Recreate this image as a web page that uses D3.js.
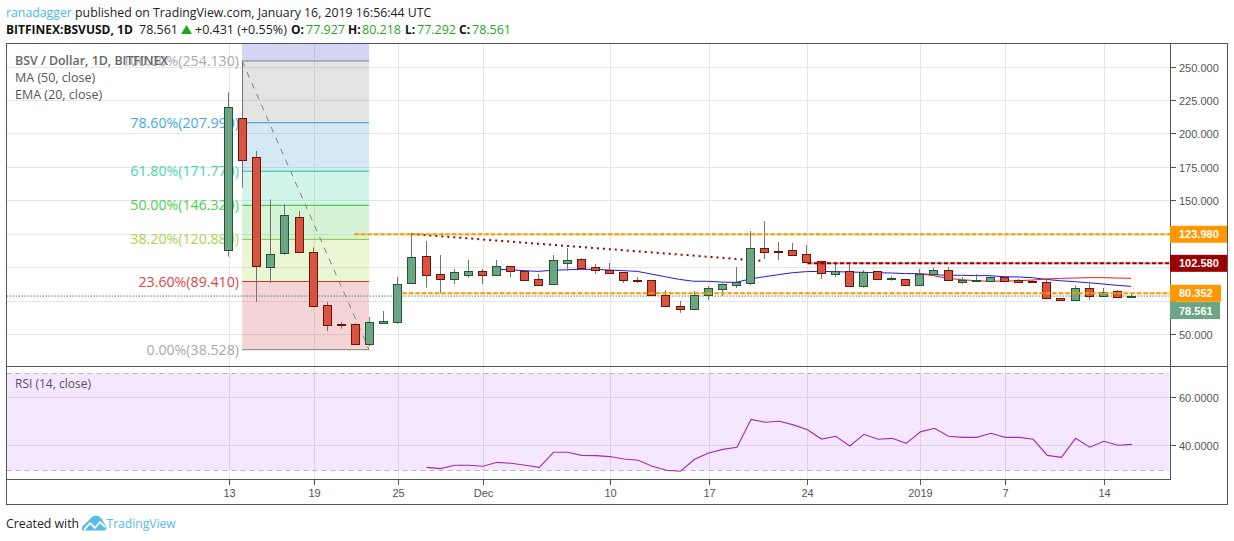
<!DOCTYPE html>
<html><head><meta charset="utf-8">
<script src="https://cdn.jsdelivr.net/npm/d3@7/dist/d3.min.js"></script>
<style>html,body{margin:0;padding:0;background:#fff}svg{display:block}</style>
</head><body><svg id="c" width="1234" height="541"></svg>
<script>
// ---- data ----
const opens  = [113.2,211.3,182.2,100.5,110.9,137.4,111.2,71.7,57.5,57.5,43,58.7,59.4,88.5,108.3,94.8,91.5,94.5,97,94.5,100.8,97,91,87.8,103.5,106,100,98.2,96.3,90.5,90.3,79.3,70.9,69.1,79.6,84,87,88.5,114.2,112.2,112.7,109.7,104.5,95.3,97,86.3,97,91.5,91,87,95.3,97.8,89,90,90,92.6,90.3,89.8,88.8,77.1,75.8,84.4,78.6,82,77.927];
const highs  = [230.7,254.13,186.9,150.8,147.3,142.1,115,74.1,59.2,58.2,62.9,67.4,92.8,124.9,119.7,109.2,98.8,105.5,98.8,105.5,101,97.5,95,109.2,114.4,106.8,102.5,103.2,96.5,92.8,90.3,83,74.9,82.3,86,88,100.3,127.1,134.6,118.9,118.2,116.7,105,103,102.3,98,97,93.3,91,98.8,99.7,100,92.8,95,94.3,93.8,91.3,90.5,91.8,77.1,86.6,89,84.6,83,80.218];
const lows   = [108,159.5,74.3,88.5,109.4,110.9,70.9,52.5,54.2,43,41,57.9,57.9,88.5,84.8,80.6,87.6,92.3,87.6,93.8,92.8,89.8,86,87.8,97.3,98.5,95,96,88.3,88.3,79.6,71.4,66.1,69.1,75.6,78.6,84.6,86.8,106.2,105.5,108.7,104,91.3,92.8,86.3,84.8,91.5,90,87,87,94,90,87.8,90,90,90,89,88.5,76.1,75.4,75.8,75.8,78.6,77.3,77.292];
const closes = [219.5,180,100.8,109.7,138.9,111.7,70.9,57.2,56.7,43,59,59.7,87.3,107.5,94.5,91.5,96.3,97,94.5,100.8,97,90.8,87,105.3,105.3,99.7,98.2,96,90.8,90,79.6,71.4,69.1,79.1,84.4,87.6,89,114.2,111.7,111.7,109.4,104.2,95.6,97,86.3,96.3,91.5,92,87,94.8,97.8,90.8,90.3,90.8,92.6,90,89.3,88.8,76.9,75.8,84.4,78.4,81.4,78,78.561];
const emaStart = 19;
const emaValues = [98.5,98.2,97.5,97,97.8,98.2,98.5,98.5,98,97.5,97,95,93,91,89.6,89.6,89,88.8,91.3,93,94.5,96,96.8,97,96.8,96.5,96.3,96,95.8,95.3,95.3,94.5,94.1,94.1,93.8,93.8,93,92.8,92.3,91,90,89.3,88.5,87.6,86.6,85.8];
const maStart = 49;
const maValues = [95.3,93.8,91.8,90.8,90,89.6,89.8,90,90.5,91.3,91.8,92,92.3,92.3,92,91.8];
const rsiStart = 14;
const rsiValues = [30.8,30.3,31.7,31.7,31.25,32.9,32.5,31.7,30.8,37.1,37.1,35.8,35.7,35.3,34.3,33.75,31.25,29.6,29.2,34.2,36.8,38.3,39.2,50.8,49.6,50,48.5,46.5,42.6,43.75,39.7,44.6,42.5,42.9,40.8,45.6,47.1,43.75,43.3,43.3,45,43.3,43.3,42.5,35.8,35,42.9,39.2,41.7,40,40.4];
const gridPrices = [50,75,100,125,150,175,200,225,250];
const labelledPrices = [50,150,175,200,225,250];
const rsiTicks = [40,60];
const dayTickIdx = [0,6,12,18,27,34,41,49,55,62];
const dayTickLabels = ["13","19","25","Dec","10","17","24","2019","7","14"];
const fibPrices = [254.13,207.99,171.77,146.32,120.88,89.41,38.528];
const fibLabels = ["100.00%(254.130)","78.60%(207.990)","61.80%(171.770)","50.00%(146.320)","38.20%(120.880)","23.60%(89.410)","0.00%(38.528)"];
const fibLine = ["#808080","#2a9ad6","#1fc79a","#35c235","#8cc63a","#c43a2e","#808080"];
const fibText = ["#a8a8a8","#4aa8e0","#45d6ac","#45d24f","#a8d450","#d8474a","#a8a8a8"];
const fibFill = ["rgb(83,83,215)","rgb(143,143,143)","rgb(83,167,215)","rgb(75,215,171)","rgb(87,211,87)","rgb(171,215,79)","rgb(211,83,83)"];
const levelPrices = [124.7,103,80.6];
const levelNames = ["123.980","102.580","80.352"];
const levelColors = ["#ff9800","#990000","#ff9800"];
const levelStartIdx = [8.9,41.0,12.3];
const lastPrice = 78.561;
const lastLabel = "78.561";
const trendIdx = [13,38];
const trendPrices = [124.9,104.7];

// ---- scales ----
const svg = d3.select("#c");
const x = d3.scaleLinear().domain([0,64]).range([229,1132]);
const y = d3.scaleLinear().domain([50,250]).range([334.3,66.5]);
const r = d3.scaleLinear().domain([40,60]).range([445.3,397.3]);
const L=6.5,R=1227.5,PR=1170.5,T=43.5,D1=366.5,D2=479.5,B=504.5;
const UI = "'Open Sans',sans-serif", AX="'Liberation Sans',Arial,sans-serif";
const TXT="#555";

// grid
const grid = svg.append("g").attr("stroke","#e6e6e6").attr("shape-rendering","crispEdges");
gridPrices.forEach(p=>grid.append("line").attr("x1",L).attr("x2",PR).attr("y1",Math.round(y(p))+.5).attr("y2",Math.round(y(p))+.5));
rsiTicks.forEach(p=>grid.append("line").attr("x1",L).attr("x2",PR).attr("y1",Math.round(r(p))+.5).attr("y2",Math.round(r(p))+.5));
dayTickIdx.forEach(i=>{const xx=Math.round(x(i))+.5;
  grid.append("line").attr("x1",xx).attr("x2",xx).attr("y1",T).attr("y2",D1);
  grid.append("line").attr("x1",xx).attr("x2",xx).attr("y1",D1).attr("y2",D2);});

// fib zones
const fx0=x(1)-1, fx1=x(10)-1;
const fibTop=[T+.5].concat(fibPrices.slice(0,-1).map(y));
fibPrices.forEach((p,i)=>{
  svg.append("rect").attr("x",fx0).attr("width",fx1-fx0).attr("y",fibTop[i]).attr("height",y(p)-fibTop[i])
    .attr("fill",fibFill[i]).attr("fill-opacity",.25);
});
fibPrices.forEach((p,i)=>{
  svg.append("line").attr("x1",fx0).attr("x2",fx1).attr("y1",y(p)).attr("y2",y(p)).attr("stroke",fibLine[i]).attr("stroke-width",1);
  svg.append("text").attr("x",239).attr("y",y(p)+5).attr("text-anchor","end").attr("font-family",UI).attr("font-size",14.2).attr("fill",fibText[i]).text(fibLabels[i]);
});
svg.append("line").attr("x1",fx0).attr("y1",y(fibPrices[0])).attr("x2",fx1).attr("y2",y(fibPrices[6]))
  .attr("stroke","#808080").attr("stroke-dasharray","6 6").attr("stroke-width",1);

// RSI
svg.append("rect").attr("x",L).attr("width",PR-L-1).attr("y",r(70)).attr("height",r(30)-r(70)+1).attr("fill","rgb(153,21,255)").attr("fill-opacity",.1);
[373.5,470.5].forEach(yy=>{
  svg.append("line").attr("x1",L).attr("x2",PR-2).attr("y1",yy).attr("y2",yy).attr("stroke","#b9b4bd").attr("stroke-dasharray","5 4");});
const lineIdx=(start,sc,dx)=>d3.line().x((d,i)=>x(start+i)+dx).y(d=>sc(d));
svg.append("path").attr("d",lineIdx(rsiStart,r,0)(rsiValues)).attr("fill","none").attr("stroke","#a32cb5").attr("stroke-width",1.1);

// price reference
svg.append("line").attr("x1",L).attr("x2",PR).attr("y1",y(lastPrice)).attr("y2",y(lastPrice)).attr("stroke","#4f8a6c").attr("stroke-dasharray","1.5 1.5");

// trend
svg.append("line").attr("x1",x(trendIdx[0])-1).attr("y1",y(trendPrices[0])).attr("x2",x(trendIdx[1])-1).attr("y2",y(trendPrices[1]))
  .attr("stroke","#990000").attr("stroke-width",2).attr("stroke-dasharray","2 4");

// MA lines
svg.append("path").attr("d",lineIdx(emaStart,y,-1)(emaValues)).attr("fill","none").attr("stroke","#1b1bf0").attr("stroke-width",1);
svg.append("path").attr("d",lineIdx(maStart,y,-1)(maValues)).attr("fill","none").attr("stroke","#f01b1b").attr("stroke-width",1);

// candles
const UP="#6ba583",DN="#d75442",UPB="#225437",DNB="#6f1508",WICK="#737375";
closes.forEach((c,i)=>{
  const o=opens[i],up=c>=o,xx=Math.round(x(i))-.5;
  const g=svg.append("g");
  g.append("line").attr("x1",xx).attr("x2",xx).attr("y1",y(highs[i])).attr("y2",y(lows[i])).attr("stroke",WICK);
  const t=Math.round(y(Math.max(o,c)))+.5, b=Math.max(Math.round(y(Math.min(o,c)))+.5,t+1);
  g.append("rect").attr("x",xx-4).attr("width",8).attr("y",t).attr("height",b-t)
    .attr("fill",up?UP:DN).attr("stroke",up?UPB:DNB);
});

// horizontal levels
levelPrices.forEach((p,i)=>{
  const x0=x(levelStartIdx[i]);
  svg.append("line").attr("x1",x0).attr("x2",PR).attr("y1",y(p)).attr("y2",y(p)).attr("stroke",levelColors[i]).attr("stroke-width",2).attr("stroke-opacity",.35);
  svg.append("line").attr("x1",x0).attr("x2",PR).attr("y1",y(p)).attr("y2",y(p)).attr("stroke",levelColors[i]).attr("stroke-width",2).attr("stroke-dasharray","4 2.5");
});

// frame
const fr=svg.append("g").attr("stroke","#555").attr("fill","none").attr("shape-rendering","crispEdges");
fr.append("rect").attr("x",L).attr("y",T).attr("width",R-L).attr("height",B-T);
fr.append("line").attr("x1",L).attr("x2",R).attr("y1",D1).attr("y2",D1);
fr.append("line").attr("x1",L).attr("x2",PR).attr("y1",D2).attr("y2",D2);
fr.append("line").attr("x1",PR).attr("x2",PR).attr("y1",T).attr("y2",D2);

// axes
const axisText=(xx,yy,s,anchor)=>svg.append("text").attr("x",xx).attr("y",yy).attr("text-anchor",anchor||"start").attr("font-family",AX).attr("font-size",11).attr("fill",TXT).text(s);
gridPrices.forEach(p=>{
  const yy=Math.round(y(p))+.5;
  fr.append("line").attr("x1",PR).attr("x2",PR+5).attr("y1",yy).attr("y2",yy);
});
labelledPrices.forEach(p=>axisText(1179,Math.round(y(p))+4.5,p.toFixed(3)));
rsiTicks.forEach(p=>{
  const yy=Math.round(r(p))+.5;
  fr.append("line").attr("x1",PR).attr("x2",PR+5).attr("y1",yy).attr("y2",yy);
  axisText(1179,yy+4,p.toFixed(4));
});
dayTickIdx.forEach((i,k)=>{
  const xx=Math.round(x(i))+.5;
  fr.append("line").attr("x1",xx).attr("x2",xx).attr("y1",D2).attr("y2",D2+5);
  axisText(xx,497,dayTickLabels[k],"middle");
});

// price tags
const tag=(yy,s,fill,w)=>{
  svg.append("rect").attr("x",1170).attr("y",yy-8.5).attr("width",w).attr("height",17).attr("fill",fill);
  svg.append("text").attr("x",1179).attr("y",yy+4).attr("font-family",AX).attr("font-size",11).attr("font-weight",700).attr("fill","#fff").text(s);
};
tag(y(levelPrices[0]),levelNames[0],levelColors[0],57);
tag(y(levelPrices[1]),levelNames[1],levelColors[1],57);
tag(y(levelPrices[2]),levelNames[2],levelColors[2],51);
tag(y(lastPrice)+14.5,lastLabel,UP,50);

// legends
const t=(xx,yy,s,size,fill,w)=>svg.append("text").attr("x",xx).attr("y",yy).attr("font-family",UI).attr("font-size",size).attr("fill",fill).attr("font-weight",w||400).text(s);
t(15,65,"BSV / Dollar, 1D, BITFINEX",12.4,"#666",600);
t(15,82,"MA (50, close)",12.5,TXT);
t(15,99,"EMA (20, close)",12.5,TXT);
t(15,388,"RSI (14, close)",12,TXT);

// header
const h1=svg.append("text").attr("x",6).attr("y",17).attr("font-family",UI).attr("font-size",12.3).attr("fill","#222");
h1.append("tspan").attr("fill","#4db8e8").text("ranadagger");
h1.append("tspan").text(" published on TradingView.com, January 16, 2019 16:56:44 UTC");
const G="#1fa81f";
[[6,"BITFINEX:BSVUSD, 1D",700,"#111"],[139,"78.561",400,"#222"],[195,"+0.431 (+0.55%)",400,"#222"],
 [291,"O:",700,"#111"],[306,"77.927",400,G],[348,"H:",700,"#111"],[362,"80.218",400,G],
 [405,"L:",700,"#111"],[417,"77.292",400,G],[459,"C:",700,"#111"],[472,"78.561",400,G]]
 .forEach(a=>t(a[0],34,a[1],a[2]===700?12:12.5,a[3],a[2]));
svg.append("path").attr("d",d3.line()([[181,34],[192,34],[186.5,25]])+"Z").attr("fill",G);

// footer
t(6,528,"Created with",12.3,"#222");
t(106.5,528,"TradingView",12.1,"#56bce8");
svg.append("path").attr("d","M82 530.5 Q81 526 85 524 Q89 520 92 517 Q96 514 100 517 Q103 520 104 523 Q107 526 105.5 530.5 Z").attr("fill","#56bce8");
svg.append("path").attr("d","M84 530 L90 523 L95 528 L100 522 L105 527").attr("fill","none").attr("stroke","#fff").attr("stroke-width",1.8);
</script></body></html>
